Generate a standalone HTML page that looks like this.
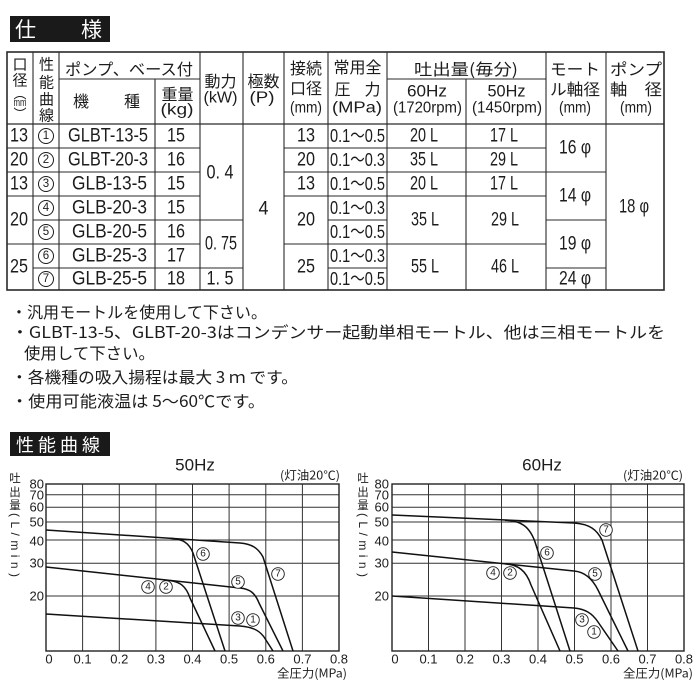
<!DOCTYPE html>
<html><head><meta charset="utf-8"><style>
html,body{margin:0;padding:0;background:#fff;}
svg{display:block;}
text{font-family:"Liberation Sans","Noto Sans CJK JP",sans-serif;fill:#1c1c1c;}
.j{font-family:"Noto Sans CJK JP","Liberation Sans",sans-serif;}
</style></head><body>
<svg width="700" height="700" viewBox="0 0 700 700" xmlns="http://www.w3.org/2000/svg">
<rect width="700" height="700" fill="#fff"/>
<!-- 仕様 header -->
<rect x="10" y="16" width="100" height="26" fill="#1a1a1a"/>
<text class="j" x="25.5" y="29" font-size="21" text-anchor="middle" dominant-baseline="central" style="fill:#fff">仕</text>
<text class="j" x="91.5" y="29" font-size="21" text-anchor="middle" dominant-baseline="central" style="fill:#fff">様</text>

<!-- TABLE lines -->
<g stroke="#2a2a2a" stroke-width="1.1" fill="none">
<rect x="7" y="52" width="657" height="238" stroke-width="1.6"/>
<line x1="7" y1="124" x2="664" y2="124" stroke-width="1.3"/>
<line x1="59" y1="79" x2="200" y2="79"/>
<line x1="387" y1="79" x2="546" y2="79"/>
<line x1="33" y1="52" x2="33" y2="290"/>
<line x1="59" y1="52" x2="59" y2="290"/>
<line x1="200" y1="52" x2="200" y2="290"/>
<line x1="243" y1="52" x2="243" y2="290"/>
<line x1="284" y1="52" x2="284" y2="290"/>
<line x1="328" y1="52" x2="328" y2="290"/>
<line x1="387" y1="52" x2="387" y2="290"/>
<line x1="546" y1="52" x2="546" y2="290"/>
<line x1="606" y1="52" x2="606" y2="290"/>
<line x1="155" y1="79" x2="155" y2="290"/>
<line x1="466" y1="79" x2="466" y2="290"/>
<path d="M7 148H33M7 172H33M7 196H33M7 244H33"/>
<path d="M33 148H200M33 172H200M33 196H200M33 220H200M33 244H200M33 268H200"/>
<path d="M200 220H243M200 268H243"/>
<path d="M284 148H328M284 172H328M284 196H328M284 244H328"/>
<path d="M328 148H387M328 172H387M328 196H387M328 220H387M328 244H387M328 268H387"/>
<path d="M387 148H546M387 172H546M387 196H546M387 244H546"/>
<path d="M546 172H606M546 220H606M546 268H606"/>
</g>

<!-- TABLE header text -->
<g font-size="15" text-anchor="middle" dominant-baseline="central">
<text class="j" x="20" y="64">口</text>
<text class="j" x="20" y="80">径</text>
<text class="j" x="20" y="93" font-size="13">︵</text>
<text x="20" y="103" font-size="11" textLength="13" lengthAdjust="spacingAndGlyphs">mm</text>
<text class="j" x="20" y="113" font-size="13">︶</text>
<text class="j" x="46.5" y="64">性</text>
<text class="j" x="46.5" y="82">能</text>
<text class="j" x="46.5" y="99">曲</text>
<text class="j" x="46.5" y="115">線</text>
</g>
<g font-size="16" text-anchor="middle" dominant-baseline="central">
<text class="j" x="129" y="68" textLength="128" lengthAdjust="spacingAndGlyphs">ポンプ、ベース付</text>
<text class="j" x="81" y="100">機</text>
<text class="j" x="132" y="100">種</text>
<text class="j" x="177.5" y="93">重量</text>
<text x="177" y="110" textLength="33" lengthAdjust="spacingAndGlyphs">(kg)</text>
<text class="j" x="220.5" y="80">動力</text>
<text x="220.5" y="98" textLength="34" lengthAdjust="spacingAndGlyphs">(kW)</text>
<text class="j" x="263.5" y="80">極数</text>
<text x="262" y="98" textLength="25" lengthAdjust="spacingAndGlyphs">(P)</text>
<text class="j" x="306" y="67">接続</text>
<text class="j" x="306" y="87">口径</text>
<text x="306" y="108" textLength="32" lengthAdjust="spacingAndGlyphs">(mm)</text>
<text class="j" x="357.5" y="66">常用全</text>
<text class="j" x="357.5" y="88" textLength="46" lengthAdjust="spacing">圧　力</text>
<text x="357" y="108" textLength="50" lengthAdjust="spacingAndGlyphs">(MPa)</text>
<text class="j" x="466" y="68" textLength="104" lengthAdjust="spacingAndGlyphs">吐出量(毎分)</text>
<text x="427" y="91" font-size="17" textLength="40" lengthAdjust="spacingAndGlyphs">60Hz</text>
<text x="427.5" y="108" textLength="69" lengthAdjust="spacingAndGlyphs">(1720rpm)</text>
<text x="506.5" y="91" font-size="17" textLength="38" lengthAdjust="spacingAndGlyphs">50Hz</text>
<text x="507" y="108" textLength="70" lengthAdjust="spacingAndGlyphs">(1450rpm)</text>
<text class="j" x="575" y="68" textLength="50" lengthAdjust="spacingAndGlyphs">モート</text>
<text class="j" x="575" y="88" textLength="50" lengthAdjust="spacingAndGlyphs">ル軸径</text>
<text x="575" y="108" textLength="32" lengthAdjust="spacingAndGlyphs">(mm)</text>
<text class="j" x="636" y="68" textLength="52" lengthAdjust="spacingAndGlyphs">ポンプ</text>
<text class="j" x="636" y="88" textLength="52" lengthAdjust="spacingAndGlyphs">軸　径</text>
<text x="636" y="108" textLength="32" lengthAdjust="spacingAndGlyphs">(mm)</text>
</g>

<!-- TABLE body -->
<g font-size="19" text-anchor="middle" dominant-baseline="central">
<text x="19" y="136" textLength="18" lengthAdjust="spacingAndGlyphs">13</text>
<text x="19" y="160" textLength="18" lengthAdjust="spacingAndGlyphs">20</text>
<text x="19" y="184" textLength="18" lengthAdjust="spacingAndGlyphs">13</text>
<text x="19" y="220" textLength="18" lengthAdjust="spacingAndGlyphs">20</text>
<text x="19" y="267" textLength="18" lengthAdjust="spacingAndGlyphs">25</text>

<text x="108" y="136" textLength="80" lengthAdjust="spacingAndGlyphs">GLBT-13-5</text>
<text x="108" y="160" textLength="80" lengthAdjust="spacingAndGlyphs">GLBT-20-3</text>
<text x="109.5" y="184" textLength="75" lengthAdjust="spacingAndGlyphs">GLB-13-5</text>
<text x="109.5" y="208" textLength="75" lengthAdjust="spacingAndGlyphs">GLB-20-3</text>
<text x="109.5" y="232" textLength="75" lengthAdjust="spacingAndGlyphs">GLB-20-5</text>
<text x="109.5" y="256" textLength="75" lengthAdjust="spacingAndGlyphs">GLB-25-3</text>
<text x="109.5" y="279" textLength="75" lengthAdjust="spacingAndGlyphs">GLB-25-5</text>

<text x="176" y="136" textLength="18" lengthAdjust="spacingAndGlyphs">15</text>
<text x="176" y="160" textLength="18" lengthAdjust="spacingAndGlyphs">16</text>
<text x="176" y="184" textLength="18" lengthAdjust="spacingAndGlyphs">15</text>
<text x="176" y="208" textLength="18" lengthAdjust="spacingAndGlyphs">15</text>
<text x="176" y="232" textLength="18" lengthAdjust="spacingAndGlyphs">16</text>
<text x="176" y="256" textLength="18" lengthAdjust="spacingAndGlyphs">17</text>
<text x="176" y="279" textLength="18" lengthAdjust="spacingAndGlyphs">18</text>

<text x="220" y="173" textLength="27" lengthAdjust="spacingAndGlyphs">0. 4</text>
<text x="221" y="244" textLength="32" lengthAdjust="spacingAndGlyphs">0. 75</text>
<text x="220" y="279" textLength="27" lengthAdjust="spacingAndGlyphs">1. 5</text>
<text x="263.5" y="209" textLength="10" lengthAdjust="spacingAndGlyphs">4</text>

<text x="306" y="136" textLength="18" lengthAdjust="spacingAndGlyphs">13</text>
<text x="306" y="160" textLength="18" lengthAdjust="spacingAndGlyphs">20</text>
<text x="306" y="184" textLength="18" lengthAdjust="spacingAndGlyphs">13</text>
<text x="306" y="220" textLength="18" lengthAdjust="spacingAndGlyphs">20</text>
<text x="306" y="267" textLength="18" lengthAdjust="spacingAndGlyphs">25</text>

<text x="424" y="136" textLength="28" lengthAdjust="spacingAndGlyphs">20 L</text>
<text x="424" y="160" textLength="28" lengthAdjust="spacingAndGlyphs">35 L</text>
<text x="424" y="184" textLength="28" lengthAdjust="spacingAndGlyphs">20 L</text>
<text x="425" y="220" textLength="28" lengthAdjust="spacingAndGlyphs">35 L</text>
<text x="425" y="267" textLength="28" lengthAdjust="spacingAndGlyphs">55 L</text>

<text x="504" y="136" textLength="28" lengthAdjust="spacingAndGlyphs">17 L</text>
<text x="504" y="160" textLength="28" lengthAdjust="spacingAndGlyphs">29 L</text>
<text x="504" y="184" textLength="28" lengthAdjust="spacingAndGlyphs">17 L</text>
<text x="505" y="220" textLength="28" lengthAdjust="spacingAndGlyphs">29 L</text>
<text x="505" y="267" textLength="28" lengthAdjust="spacingAndGlyphs">46 L</text>

<text x="575" y="148" textLength="32" lengthAdjust="spacingAndGlyphs">16 φ</text>
<text x="575" y="196" textLength="32" lengthAdjust="spacingAndGlyphs">14 φ</text>
<text x="575" y="244" textLength="32" lengthAdjust="spacingAndGlyphs">19 φ</text>
<text x="575" y="279" textLength="32" lengthAdjust="spacingAndGlyphs">24 φ</text>
<text x="634" y="207" textLength="30" lengthAdjust="spacingAndGlyphs">18 φ</text>
</g>
<g font-size="18" text-anchor="middle" dominant-baseline="central">
<text x="357.5" y="136" textLength="55" lengthAdjust="spacingAndGlyphs">0.1～0.5</text>
<text x="357.5" y="160" textLength="55" lengthAdjust="spacingAndGlyphs">0.1～0.3</text>
<text x="357.5" y="184" textLength="55" lengthAdjust="spacingAndGlyphs">0.1～0.5</text>
<text x="357.5" y="208" textLength="55" lengthAdjust="spacingAndGlyphs">0.1～0.3</text>
<text x="357.5" y="232" textLength="55" lengthAdjust="spacingAndGlyphs">0.1～0.5</text>
<text x="357.5" y="256" textLength="55" lengthAdjust="spacingAndGlyphs">0.1～0.3</text>
<text x="357.5" y="279" textLength="55" lengthAdjust="spacingAndGlyphs">0.1～0.5</text>
</g>
<g fill="none" stroke="#1c1c1c" stroke-width="1">
<circle cx="46" cy="136" r="7.5"/><circle cx="46" cy="160" r="7.5"/><circle cx="46" cy="184" r="7.5"/>
<circle cx="46" cy="208" r="7.5"/><circle cx="46" cy="232" r="7.5"/><circle cx="46" cy="256" r="7.5"/>
<circle cx="46" cy="279" r="7.5"/>
</g>
<g font-size="11.5" text-anchor="middle" dominant-baseline="central">
<text x="46" y="136">1</text><text x="46" y="160">2</text><text x="46" y="184">3</text>
<text x="46" y="208">4</text><text x="46" y="232">5</text><text x="46" y="256">6</text>
<text x="46" y="279">7</text>
</g>

<!-- NOTES -->
<g class="j" font-size="16" dominant-baseline="central">
<text class="j" x="11" y="311" textLength="256" lengthAdjust="spacingAndGlyphs">・汎用モートルを使用して下さい。</text>
<text class="j" x="11" y="331" textLength="654" lengthAdjust="spacingAndGlyphs">・GLBT-13-5、GLBT-20-3はコンデンサー起動単相モートル、他は三相モートルを</text>
<text class="j" x="24" y="352" textLength="131" lengthAdjust="spacingAndGlyphs">使用して下さい。</text>
<text class="j" x="11" y="376" textLength="287" lengthAdjust="spacingAndGlyphs">・各機種の吸入揚程は最大 3 ｍ です。</text>
<text class="j" x="11" y="400" textLength="254" lengthAdjust="spacingAndGlyphs">・使用可能液温は 5～60℃です。</text>
</g>

<!-- 性能曲線 header -->
<rect x="10" y="432" width="100" height="24" fill="#1a1a1a"/>
<text class="j" x="16" y="444.5" font-size="18" dominant-baseline="central" textLength="84" lengthAdjust="spacing" style="fill:#fff">性能曲線</text>

<!-- CHART 1 (50Hz) -->
<g stroke="#333" stroke-width="1" fill="none">
<path d="M82.6 484V651M119.3 484V651M155.9 484V651M192.5 484V651M229.1 484V651M265.8 484V651M302.4 484V651"/>
<path d="M46 494.8H339M46 507.3H339M46 522H339M46 540H339M46 563.2H339M46 596H339"/>
<rect x="46" y="484" width="293" height="167" stroke-width="1.4" stroke="#222"/>
</g>
<g stroke="#111" stroke-width="1.5" fill="none" stroke-linejoin="round">
<path d="M46 530 L240 543 C252 544 258 548 263 557 L293 651"/>
<path d="M170 538.3 C183 539 189 543 193 553 L225 651"/>
<path d="M46 567 L240 588 C250 589 255 593 259 603 L283 651"/>
<path d="M170 580.5 C180 582 186 586 190 598 L215 651"/>
<path d="M46 614 L240 626 C252 627 259 630 264 637 L273 651"/>
</g>
<g font-size="13" text-anchor="end" dominant-baseline="central">
<text x="44" y="484">80</text><text x="44" y="495">70</text><text x="44" y="507">60</text>
<text x="44" y="522">50</text><text x="44" y="541">40</text><text x="44" y="563">30</text>
<text x="44" y="596">20</text>
</g>
<g font-size="13" text-anchor="middle" dominant-baseline="central">
<text x="49" y="659">0</text><text x="82.6" y="659">0.1</text><text x="119.3" y="659">0.2</text>
<text x="155.9" y="659">0.3</text><text x="192.5" y="659">0.4</text><text x="229.1" y="659">0.5</text>
<text x="265.8" y="659">0.6</text><text x="302.4" y="659">0.7</text><text x="339" y="659">0.8</text>
</g>
<text x="195" y="465" font-size="17" text-anchor="middle" dominant-baseline="central">50Hz</text>
<text class="j" x="280" y="475" font-size="12" dominant-baseline="central" textLength="60" lengthAdjust="spacingAndGlyphs">(灯油20℃)</text>
<text class="j" x="277" y="673" font-size="12" dominant-baseline="central" textLength="70" lengthAdjust="spacingAndGlyphs">全圧力(MPa)</text>
<g class="j" font-size="11.5" text-anchor="middle" dominant-baseline="central">
<text class="j" x="15" y="478">吐</text><text class="j" x="15" y="492">出</text><text class="j" x="15" y="505">量</text>
</g>
<text x="15" y="545" font-size="12" text-anchor="middle" dominant-baseline="central" transform="rotate(90 15 545)" textLength="64" lengthAdjust="spacing">(L/min)</text>
<g fill="#fff" stroke="#1c1c1c" stroke-width="0.9">
<circle cx="203" cy="554" r="6.3"/><circle cx="278" cy="574" r="6.3"/><circle cx="238" cy="582" r="6.3"/>
<circle cx="148" cy="587" r="6.3"/><circle cx="166" cy="587" r="6.3"/><circle cx="238" cy="618" r="6.3"/>
<circle cx="253" cy="620" r="6.3"/>
</g>
<g font-size="10" text-anchor="middle" dominant-baseline="central">
<text x="203" y="554">6</text><text x="278" y="574">7</text><text x="238" y="582">5</text>
<text x="148" y="587">4</text><text x="166" y="587">2</text><text x="238" y="618">3</text>
<text x="253" y="620">1</text>
</g>

<!-- CHART 2 (60Hz) -->
<g stroke="#333" stroke-width="1" fill="none">
<path d="M428.5 484V651M465 484V651M501.5 484V651M538 484V651M574.5 484V651M611 484V651M647.5 484V651"/>
<path d="M392 494.8H684M392 507.3H684M392 522H684M392 540H684M392 563.2H684M392 596H684"/>
<rect x="392" y="484" width="292" height="167" stroke-width="1.4" stroke="#222"/>
</g>
<g stroke="#111" stroke-width="1.5" fill="none" stroke-linejoin="round">
<path d="M392 515 L574 523 C590 524 597 530 602 540 L638 651"/>
<path d="M505 520.2 C520 521 530 525 536 545 L570 651"/>
<path d="M392 552 L574 571 C586 572 593 580 598 590 L628 651"/>
<path d="M505 563.8 C518 565 526 570 531 585 L560 651"/>
<path d="M392 596 L574 608 C585 609 592 613 598 622 L618 651"/>
</g>
<g font-size="13" text-anchor="end" dominant-baseline="central">
<text x="389" y="484">80</text><text x="389" y="495">70</text><text x="389" y="507">60</text>
<text x="389" y="522">50</text><text x="389" y="541">40</text><text x="389" y="563">30</text>
<text x="389" y="596">20</text>
</g>
<g font-size="13" text-anchor="middle" dominant-baseline="central">
<text x="395" y="659">0</text><text x="428.5" y="659">0.1</text><text x="465" y="659">0.2</text>
<text x="501.5" y="659">0.3</text><text x="538" y="659">0.4</text><text x="574.5" y="659">0.5</text>
<text x="611" y="659">0.6</text><text x="647.5" y="659">0.7</text><text x="684" y="659">0.8</text>
</g>
<text x="542" y="465" font-size="17" text-anchor="middle" dominant-baseline="central">60Hz</text>
<text class="j" x="623" y="475" font-size="12" dominant-baseline="central" textLength="60" lengthAdjust="spacingAndGlyphs">(灯油20℃)</text>
<text class="j" x="623" y="673" font-size="12" dominant-baseline="central" textLength="70" lengthAdjust="spacingAndGlyphs">全圧力(MPa)</text>
<g class="j" font-size="11.5" text-anchor="middle" dominant-baseline="central">
<text class="j" x="363" y="478">吐</text><text class="j" x="363" y="492">出</text><text class="j" x="363" y="505">量</text>
</g>
<text x="363" y="545" font-size="12" text-anchor="middle" dominant-baseline="central" transform="rotate(90 363 545)" textLength="64" lengthAdjust="spacing">(L/min)</text>
<g fill="#fff" stroke="#1c1c1c" stroke-width="0.9">
<circle cx="606" cy="530" r="6.3"/><circle cx="547" cy="553" r="6.3"/><circle cx="595" cy="574" r="6.3"/>
<circle cx="493" cy="573" r="6.3"/><circle cx="510" cy="573" r="6.3"/><circle cx="582" cy="620" r="6.3"/>
<circle cx="594" cy="632" r="6.3"/>
</g>
<g font-size="10" text-anchor="middle" dominant-baseline="central">
<text x="606" y="530">7</text><text x="547" y="553">6</text><text x="595" y="574">5</text>
<text x="493" y="573">4</text><text x="510" y="573">2</text><text x="582" y="620">3</text>
<text x="594" y="632">1</text>
</g>
</svg>
</body></html>
